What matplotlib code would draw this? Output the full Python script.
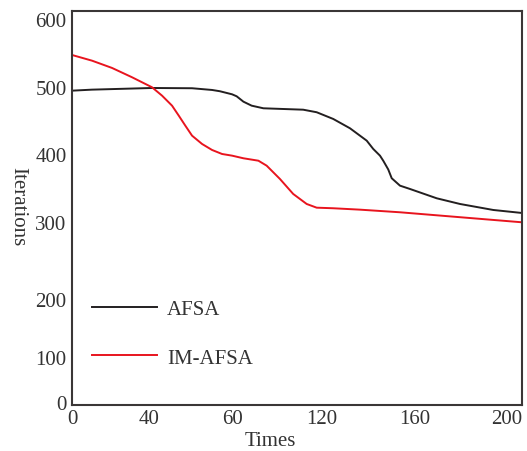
import matplotlib
matplotlib.use("Agg")
import matplotlib.pyplot as plt

# ---- data ----
afsa_x = [0, 9.2, 36.8, 55.2, 64.4, 68.0, 73.6, 75.7, 78.8, 82.6, 88.0, 97.1, 106.3,
          112.5, 120.1, 127.8, 135.5, 138.5, 141.6, 143.1, 145.4, 147.0, 150.8, 155.4,
          167.7, 178.4, 193.7, 206.9]
afsa_y = [487.7, 489.3, 491.9, 491.5, 488.8, 486.8, 482.0, 478.9, 470.5, 464.2, 460.1,
          459.0, 457.9, 453.9, 443.4, 428.8, 409.4, 396.4, 385.9, 378.0, 364.3, 350.5,
          338.9, 333.7, 319.1, 310.2, 300.8, 296.1]

im_x = [0, 9.2, 18.4, 27.6, 36.8, 41.4, 46.0, 49.1, 52.1, 55.2, 59.8, 64.4, 69.0,
        73.6, 78.8, 85.7, 89.5, 95.6, 101.7, 107.9, 112.5, 120.1, 132.4, 150.8, 206.9]
im_y = [543.6, 534.7, 523.3, 508.7, 493.0, 479.9, 464.2, 448.5, 432.9, 417.2, 404.2,
        394.8, 388.5, 385.9, 381.8, 378.0, 370.2, 349.4, 325.9, 310.2, 304.4, 303.5,
        301.3, 297.2, 281.5]

xtick_labels = ["0", "40", "60", "120", "160", "200"]
ytick_labels = ["0", "100", "200", "300", "400", "500", "600"]
series_names = ["AFSA", "IM-AFSA"]

# ---- layout (tick label positions as drawn in the picture) ----
xtick_pos = [0, 35.4, 73.6, 114.9, 157.7, 200]
ytick_pos = [0, 70.5, 161, 282, 388.5, 493.5, 600]

plt.rcParams["font.family"] = ["Liberation Serif", "DejaVu Serif"]
FS = 15
W, H = 527, 452
fig = plt.figure(figsize=(W / 100, H / 100), dpi=100)
ax = fig.add_axes([72 / W, 1 - 406 / H, 450 / W, 394 / H])

ax.plot(afsa_x, afsa_y, color="#231f20", lw=1.4, label=series_names[0],
        solid_joinstyle="round")
ax.plot(im_x, im_y, color="#e8141e", lw=1.4, label=series_names[1],
        solid_joinstyle="round")

ax.set_xlim(0, 206.9)
ax.set_ylim(-4.7, 612.5)
ax.set_xticks(xtick_pos)
ax.set_xticklabels(xtick_labels)
ax.set_yticks(ytick_pos)
ax.set_yticklabels(ytick_labels)
ax.tick_params(length=0, labelsize=FS, colors="#333333", pad=4)
ax.tick_params(axis="x", pad=3)
for s in ax.spines.values():
    s.set_color("#3a3636")
    s.set_linewidth(1.5)

fig.text(270 / W, 1 - 442 / H, "Times", ha="center", va="center",
         fontsize=FS, color="#333333")
fig.text(18 / W, 1 - 207 / H, "Iterations", ha="center", va="center",
         rotation=270, fontsize=FS, color="#333333")

ax.legend(loc="upper left", bbox_to_anchor=(0.044, 0.268), frameon=False,
          fontsize=FS, handlelength=3.15, handletextpad=0.45, labelspacing=1.4,
          borderpad=0, borderaxespad=0, labelcolor="#333333")

fig.savefig("out.png", dpi=100)
